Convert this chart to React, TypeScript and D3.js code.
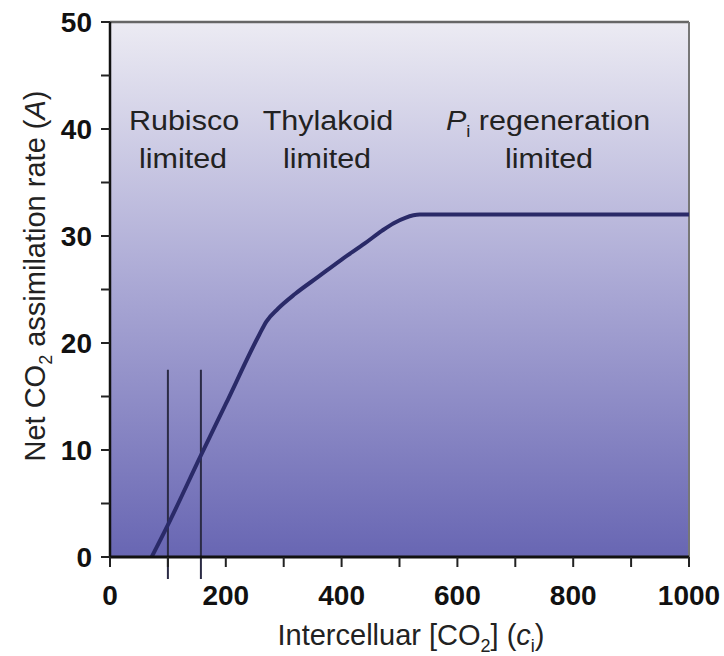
import React from 'react';
import * as d3 from 'd3';

// CO2 response curve
const ciValues = [72, 100, 157, 200, 258, 270, 290, 320, 360, 400, 440, 470, 490, 510, 535, 1000];
const aValues = [0, 3, 9.5, 14.3, 20.8, 22.0, 23.2, 24.6, 26.2, 27.8, 29.3, 30.5, 31.2, 31.7, 32, 32];
const limitLines = [100, 157];
const limitTop = 17.5;
const xTicks = [0, 100, 200, 300, 400, 500, 600, 700, 800, 900, 1000];
const xLabels = [0, 200, 400, 600, 800, 1000];
const yTicks = [0, 5, 10, 15, 20, 25, 30, 35, 40, 45, 50];
const yLabels = [0, 10, 20, 30, 40, 50];

export default function App() {
  const W = 724, H = 656;
  const m = { left: 110, right: 689, top: 22, bottom: 557 };
  const font = '"Liberation Sans", Arial, sans-serif';

  const x = d3.scaleLinear().domain([0, 1000]).range([m.left, m.right]);
  const y = d3.scaleLinear().domain([0, 50]).range([m.bottom, m.top]);

  const pts = ciValues.map((c, i) => [c, aValues[i]] as [number, number]);
  const line = d3.line<[number, number]>()
    .x(d => x(d[0]))
    .y(d => y(d[1]))
    .curve(d3.curveMonotoneX);

  const labelStyle = { fontFamily: font, fontSize: 28, fill: '#222' };

  // region label with slight horizontal stretch
  const Region = ({ cx, by, children }: { cx: number; by: number; children: React.ReactNode }) => (
    <g transform={`translate(${cx},${by}) scale(1.09,1)`}>
      <text x={0} y={0} textAnchor="middle" {...labelStyle}>{children}</text>
    </g>
  );

  return (
    <svg width={W} height={H} style={{ position: 'absolute', left: 0, top: 0, background: '#fff' }}>
      <defs>
        <linearGradient id="bg" x1="0" y1="0" x2="0" y2="1">
          <stop offset="0%" stopColor="#ecebf3" />
          <stop offset="50%" stopColor="#a9a7d4" />
          <stop offset="100%" stopColor="#6866b3" />
        </linearGradient>
      </defs>
      <rect x={m.left} y={m.top} width={m.right - m.left} height={m.bottom - m.top} fill="url(#bg)" />
      {/* frame: top/right grey */}
      <line x1={m.left} x2={m.right} y1={m.top} y2={m.top} stroke="#666" strokeWidth={2.5} />
      <line x1={m.right} x2={m.right} y1={m.top} y2={m.bottom} stroke="#777" strokeWidth={2} />

      {/* limitation markers */}
      {limitLines.map(v => (
        <line key={v} x1={x(v)} x2={x(v)} y1={y(limitTop)} y2={m.bottom + 22} stroke="#2b2b45" strokeWidth={2} />
      ))}

      <path d={line(pts) || ''} fill="none" stroke="#2a2a68" strokeWidth={4} strokeLinejoin="round" />

      {/* axes */}
      <line x1={m.left} x2={m.left} y1={m.top} y2={m.bottom} stroke="#111" strokeWidth={2.5} />
      <line x1={m.left - 1} x2={m.right} y1={m.bottom} y2={m.bottom} stroke="#111" strokeWidth={3} />
      {xTicks.map(t => (
        <line key={t} x1={x(t)} x2={x(t)} y1={m.bottom} y2={m.bottom + 10} stroke="#222" strokeWidth={2} />
      ))}
      {yTicks.map(t => (
        <line key={t} x1={m.left - 9} x2={m.left} y1={y(t)} y2={y(t)} stroke="#222" strokeWidth={2} />
      ))}
      {xLabels.map(t => (
        <text key={t} x={x(t)} y={605} textAnchor="middle" fontFamily={font} fontWeight="bold" fontSize={28} fill="#111">{t}</text>
      ))}
      {yLabels.map(t => (
        <text key={t} x={m.left - 18} y={y(t)} dy="0.36em" textAnchor="end" fontFamily={font} fontWeight="bold" fontSize={28} fill="#111">{t}</text>
      ))}

      {/* region labels */}
      <Region cx={184} by={130}>Rubisco</Region>
      <Region cx={183} by={168}>limited</Region>
      <Region cx={328} by={130}>Thylakoid</Region>
      <Region cx={327} by={168}>limited</Region>
      <Region cx={548} by={130}>
        <tspan fontStyle="italic">P</tspan>
        <tspan fontSize={17} dy={7}>i</tspan>
        <tspan dy={-7}> regeneration</tspan>
      </Region>
      <Region cx={549} by={168}>limited</Region>

      {/* axis titles */}
      <text x={411} y={645} textAnchor="middle" {...labelStyle} fontSize={29}>
        Intercelluar [CO<tspan fontSize={18} dy={7}>2</tspan><tspan dy={-7}>] (</tspan>
        <tspan fontStyle="italic">c</tspan>
        <tspan fontSize={18} dy={7}>i</tspan>
        <tspan dy={-7}>)</tspan>
      </text>
      <text transform={`translate(45,276) rotate(-90)`} textAnchor="middle" {...labelStyle} fontSize={29}>
        Net CO<tspan fontSize={18} dy={7}>2</tspan><tspan dy={-7}> assimilation rate (</tspan>
        <tspan fontStyle="italic">A</tspan>
        <tspan>)</tspan>
      </text>
    </svg>
  );
}
